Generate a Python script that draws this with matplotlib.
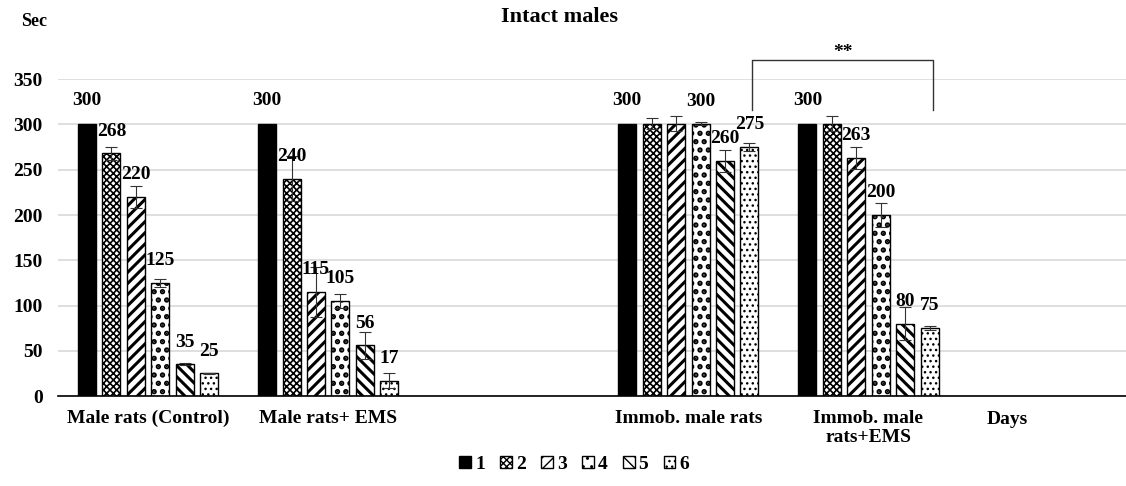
import numpy as np
import matplotlib
matplotlib.use("Agg")
import matplotlib.pyplot as plt

# groups on the x axis (the empty slot is a gap in the original chart)
groups = ["Male rats (Control)", "Male rats+ EMS", "", "Immob. male rats", "Immob. male\nrats+EMS"]
days = ["1", "2", "3", "4", "5", "6"]

# mean time (sec) per day, one list per day, one value per group
day1 = [300, 300, np.nan, 300, 300]
day2 = [268, 240, np.nan, 301, 301]
day3 = [220, 115, np.nan, 301, 263]
day4 = [125, 105, np.nan, 301, 200]
day5 = [35, 56, np.nan, 260, 80]
day6 = [25, 17, np.nan, 275, 75]

# error bars
err1 = [0, 0, np.nan, 0, 0]
err2 = [7, 25, np.nan, 6, 8]
err3 = [12, 28, np.nan, 8, 12]
err4 = [4, 8, np.nan, 2, 13]
err5 = [1, 15, np.nan, 12, 18]
err6 = [1, 8, np.nan, 4, 2]

# value labels as printed on the chart ("" = not printed)
lab1 = ["300", "300", "", "300", "300"]
lab2 = ["268", "240", "", "", ""]
lab3 = ["220", "115", "", "", "263"]
lab4 = ["125", "105", "", "300", "200"]
lab5 = ["35", "56", "", "260", "80"]
lab6 = ["25", "17", "", "275", "75"]

series = [day1, day2, day3, day4, day5, day6]
errors = [err1, err2, err3, err4, err5, err6]
labels = [lab1, lab2, lab3, lab4, lab5, lab6]
hatches = [None, "xxxxx", "///", "..", "\\\\\\", "..."]
hatch_lw = [1.0, 1.2, 2.2, 2.6, 2.2, 1.0]

plt.rcParams["font.family"] = ["Liberation Serif", "DejaVu Serif"]
plt.rcParams["font.weight"] = "bold"

fig = plt.figure(figsize=(11.26, 4.86), dpi=100)
ax = fig.add_axes([0.0515, 0.185, 0.9485, 0.652])

x = np.arange(len(groups))
step = 0.1356
width = 0.1

for i, vals in enumerate(series):
    pos = x + (i - 2.5) * step
    vals = np.array(vals, dtype=float)
    with plt.rc_context({"hatch.linewidth": hatch_lw[i]}):
        if hatches[i] is None:
            bars = ax.bar(pos, vals, width, color="black", edgecolor="black",
                          linewidth=1, label=days[i], zorder=2)
        else:
            bars = ax.bar(pos, vals, width, color="white", edgecolor="black",
                          hatch=hatches[i], linewidth=1, label=days[i], zorder=2)
    for b in bars:
        if hasattr(b, "set_hatch_linewidth"):
            b.set_hatch_linewidth(hatch_lw[i])
    e = np.array(errors[i], dtype=float)
    ok = ~np.isnan(vals) & (np.nan_to_num(e) > 0)
    ax.errorbar(pos[ok], vals[ok], yerr=e[ok], fmt="none", ecolor="#333333",
                elinewidth=0.8, capsize=4, capthick=0.8, zorder=3)
    for j, txt in enumerate(labels[i]):
        if txt:
            off = 17 if i == 0 else 16
            ax.annotate(txt, (pos[j], vals[j]), xytext=(0, off),
                        textcoords="offset points", ha="center", va="center",
                        fontsize=14, fontweight="bold", zorder=4)

ax.set_ylim(0, 350)
ax.set_xlim(-0.5, 5.43)
ax.set_yticks(range(0, 351, 50))
ax.set_xticks(x)
ax.set_xticklabels(groups, fontsize=14, fontweight="bold", va="top",
                   linespacing=1.15)
ax.tick_params(axis="both", length=0, labelsize=14)
ax.tick_params(axis="x", pad=10)
ax.tick_params(axis="y", pad=11)
for t in ax.get_yticklabels():
    t.set_fontweight("bold")
ax.yaxis.grid(True, color="#d9d9d9", linewidth=1.2, zorder=0)
ax.set_axisbelow(True)
for s in ["top", "right", "left"]:
    ax.spines[s].set_visible(False)
ax.spines["bottom"].set_linewidth(1.2)

ax.text(4.77, -26, "Days", ha="center", va="center", fontsize=14,
        fontweight="bold", clip_on=False)

# significance bracket between the two immobilised groups
bx0, bx1 = 3.355, 4.36
ax.plot([bx0, bx0, bx1, bx1], [316, 371, 371, 316], color="#333333",
        linewidth=1, clip_on=False)
ax.text((bx0 + bx1) / 2, 380, "**", ha="center", va="center", fontsize=14,
        fontweight="bold", clip_on=False)

fig.text(0.497, 0.965, "Intact males", ha="center", va="center",
         fontsize=16, fontweight="bold")
fig.text(0.03, 0.955, "Sec", ha="center", va="center", fontsize=13,
         fontweight="bold")

fig.legend(loc="center", bbox_to_anchor=(0.51, 0.045), ncol=6, frameon=False,
           handlelength=0.6, handleheight=0.6, handletextpad=0.2,
           columnspacing=0.8, prop={"size": 14, "weight": "bold"})

fig.savefig("out.png", dpi=100)
